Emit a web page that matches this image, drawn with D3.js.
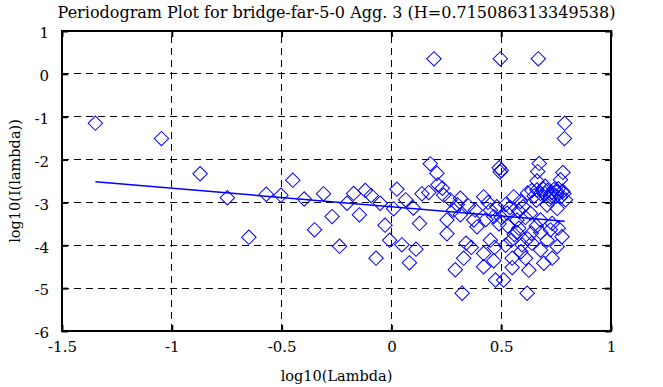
<!DOCTYPE html>
<html><head><meta charset="utf-8">
<script src="https://cdn.jsdelivr.net/npm/d3@7"></script>
<style>body{margin:0;background:#fff}svg{display:block}</style>
</head><body><svg id="c" width="663" height="387"></svg>
<script>
const FONT = 'DejaVu Serif';
const title = "Periodogram Plot for bridge-far-5-0 Agg. 3 (H=0.715086313349538)";
const xLabel = "log10(Lambda)";
const yLabel = "log10(I(lambda))";
const xTicks = [-1.5, -1, -0.5, 0, 0.5, 1];
const xTickLabels = ["-1.5", "-1", "-0.5", "0", "0.5", "1"];
const yTicks = [1, 0, -1, -2, -3, -4, -5, -6];
const yTickLabels = ["1", "0", "-1", "-2", "-3", "-4", "-5", "-6"];
const logLambda = [
-1.348,-1.047,-0.871,-0.747,-0.649,-0.570,-0.503,-0.449,-0.397,-0.350,-0.309,-0.270,-0.236,-0.202,-0.172,-0.146,-0.119,-0.092,-0.070,-0.051,
-0.029,-0.008,0.025,0.010,0.065,0.048,0.100,0.082,0.112,0.128,0.139,0.170,0.177,0.194,0.207,0.212,0.232,0.238,0.253,0.253,
0.268,0.283,0.291,0.314,0.314,0.322,0.329,0.340,0.364,0.375,0.382,0.390,0.420,0.420,0.420,0.451,0.451,0.466,0.466,0.474,
0.491,0.496,0.500,0.495,0.511,0.527,0.546,0.550,0.550,0.557,0.572,0.572,0.587,0.595,0.611,0.618,0.626,0.633,0.637,0.663,
0.663,0.666,0.669,0.673,0.679,0.679,0.679,0.694,0.709,0.709,0.724,0.724,0.732,0.732,0.755,0.755,0.755,0.760,0.770,0.777,
0.781,0.785,0.788,0.789,0.793,
0.62,0.64,0.65,0.69,0.70,0.71,0.72,0.73,0.74,0.75,0.76,0.77,0.78,0.70,0.66,
0.30,0.35,0.44,0.48,0.52,0.54,0.60,0.58,0.50,0.61,0.43,0.49,0.53,0.58,0.62,0.64,0.68,0.66,0.59,0.52,0.47,0.56
];
const logI = [
-1.15,-1.51,-2.33,-2.89,-3.81,-2.81,-2.83,-2.48,-2.92,-3.64,-2.80,-3.33,-4.02,-3.02,-2.79,-3.29,-2.72,-2.84,-4.30,-3.02,
-3.53,-3.88,-2.69,-3.15,-2.94,-3.99,-3.13,-4.41,-4.09,-3.49,-2.80,-2.77,-2.10,0.35,-2.32,-2.59,-2.67,-2.83,-3.41,-3.73,
-2.94,-3.18,-4.57,-2.90,-3.29,-5.12,-4.30,-3.95,-4.05,-3.41,-3.18,-3.57,-2.87,-4.19,-4.50,-3.18,-3.88,-3.33,-4.36,-4.81,
-2.19,0.35,-2.25,-2.29,-4.81,-3.25,-3.88,-4.30,-4.52,-2.87,-3.41,-3.70,-2.98,-3.99,-4.30,-5.12,-4.58,-3.25,-3.72,-2.50,
-2.71,-2.28,0.35,-2.09,-2.79,-3.41,-4.11,-4.42,-3.06,-3.88,-2.87,-3.64,-3.49,-4.30,-2.75,-3.14,-4.03,-3.60,-2.47,-3.80,
-2.30,-2.79,-1.51,-1.15,-2.94,
-2.78,-2.72,-2.85,-2.68,-2.80,-2.72,-2.93,-2.77,-2.70,-2.85,-2.68,-2.88,-2.74,-2.62,-2.95,
-3.05,-3.08,-3.00,-3.10,-3.05,-3.12,-3.10,-3.20,-3.35,-3.35,-3.40,-3.50,-3.55,-3.60,-3.85,-3.95,-3.70,-3.55,-4.15,-4.00,-4.05,-3.75
];
const fitX = [-1.348, 0.789];
const fitY = [-2.52, -3.44];

const W = 663, H = 387;
const m = {l: 62, r: 52, t: 31, b: 56};
const svg = d3.select("#c");
const x = d3.scaleLinear().domain([-1.5, 1]).range([m.l, W - m.r]);
const y = d3.scaleLinear().domain([-6, 1]).range([H - m.b, m.t]);
const x0 = m.l, x1 = W - m.r, y0 = H - m.b, y1 = m.t;

// grid
const g = svg.append("g");
g.selectAll(".gx").data(xTicks.slice(1, -1)).enter().append("line")
  .attr("x1", d => x(d)).attr("x2", d => x(d)).attr("y1", y0).attr("y2", y1)
  .attr("stroke", "#000").attr("stroke-width", 1).attr("stroke-dasharray", "7,5").attr("shape-rendering", "crispEdges");
g.selectAll(".gy").data(yTicks.slice(1, -1)).enter().append("line")
  .attr("y1", d => y(d)).attr("y2", d => y(d)).attr("x1", x0).attr("x2", x1)
  .attr("stroke", "#000").attr("stroke-width", 1).attr("stroke-dasharray", "7,5").attr("shape-rendering", "crispEdges");

// points
const pts = logLambda.map((v, i) => [v, logI[i]]);
const sym = d3.symbol().type(d3.symbolSquare).size(104);
svg.append("g").selectAll("path").data(pts).enter().append("path")
  .attr("d", sym)
  .attr("transform", d => `translate(${x(d[0])},${y(d[1])}) rotate(45)`)
  .attr("fill", "none").attr("stroke", "#0000ff").attr("stroke-width", 1);

// fit line
svg.append("path").datum(fitX.map((v, i) => [v, fitY[i]]))
  .attr("d", d3.line().x(d => x(d[0])).y(d => y(d[1])))
  .attr("stroke", "#0000ff").attr("stroke-width", 1.5).attr("fill", "none");

// axes (inward ticks on all sides)
const tl = 6;
const axB = svg.append("g").attr("transform", `translate(0,${y0})`)
  .call(d3.axisBottom(x).tickValues(xTicks).tickSize(-tl).tickPadding(10).tickFormat((d, i) => xTickLabels[i]));
const axT = svg.append("g").attr("transform", `translate(0,${y1})`)
  .call(d3.axisTop(x).tickValues(xTicks).tickSize(-tl).tickFormat(""));
const axL = svg.append("g").attr("transform", `translate(${x0},0)`)
  .call(d3.axisLeft(y).tickValues(yTicks).tickSize(-tl).tickPadding(13).tickFormat((d, i) => yTickLabels[i]));
const axR = svg.append("g").attr("transform", `translate(${x1},0)`)
  .call(d3.axisRight(y).tickValues(yTicks).tickSize(-tl).tickFormat(""));
[axB, axT, axL, axR].forEach(a => {
  a.attr("font-family", FONT).attr("font-size", 15);
  a.select(".domain").remove();
  a.selectAll(".tick line").attr("stroke", "#000").attr("stroke-width", 2);
  a.selectAll("text").attr("fill", "#000");
});
axL.selectAll("text").attr("dy", "0.45em");
svg.append("rect").attr("x", x0).attr("y", y1).attr("width", x1 - x0).attr("height", y0 - y1)
  .attr("fill", "none").attr("stroke", "#000").attr("stroke-width", 2);

// labels
const lab = svg.append("g").attr("font-family", FONT).attr("fill", "#000");
lab.append("text").attr("x", (x0 + x1) / 2).attr("y", 18).attr("text-anchor", "middle").attr("font-size", 16).text(title);
lab.append("text").attr("x", (x0 + x1) / 2).attr("y", 381).attr("text-anchor", "middle").attr("font-size", 14.5).text(xLabel);
lab.append("text").attr("transform", `translate(20,${(y0 + y1) / 2}) rotate(-90)`).attr("text-anchor", "middle").attr("font-size", 14.5).text(yLabel);
</script></body></html>
